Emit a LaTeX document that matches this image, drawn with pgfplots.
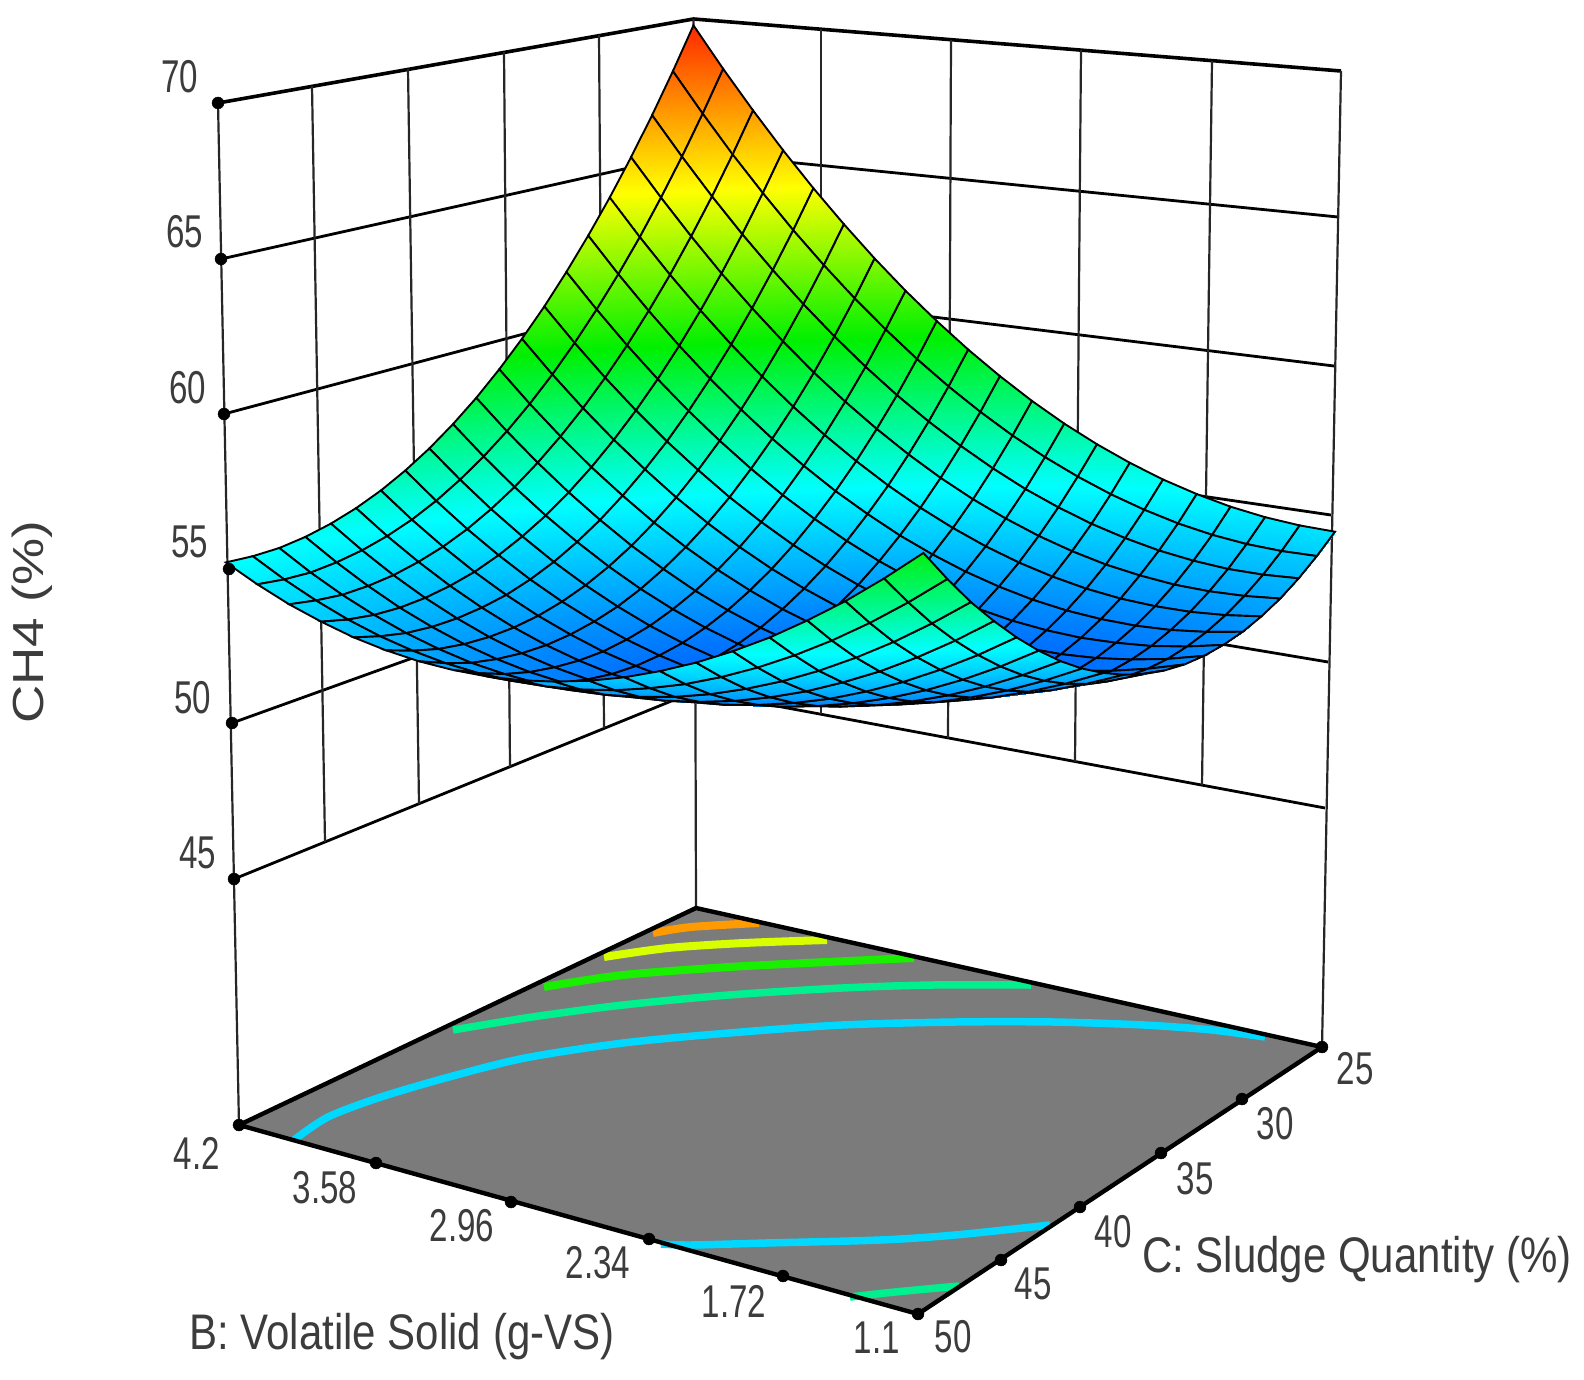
\documentclass[border=0pt]{standalone}
\usepackage{graphicx}
\usepackage{fontspec}
\setmainfont{Liberation Sans}
\usepackage{pgfplots}
\usepackage{pgfplotstable}
\pgfplotsset{compat=1.18}
\definecolor{txt}{HTML}{3C3C3C}
\definecolor{floorgray}{HTML}{7B7B7B}
\newcommand\uu{((4.2-\thisrow{B})/3.1)}
\newcommand\vt{((\thisrow{C}-25)/25)}
\newcommand\ww{((\thisrow{z}-36.49)*0.02985)}
\newcommand\den{(1-0.0929*\uu-0.1333*\vt-0.038*\ww)}
\newcommand\tl[1]{\fontsize{46}{50}\selectfont\color{txt}\scalebox{.72}[1]{#1}}
\newcommand\ttl[1]{\fontsize{50}{54}\selectfont\color{txt}\scalebox{.84}[1]{#1}}
\pgfplotstableread{
B C z
4.200 25 69.76
4.045 25 68.27
3.890 25 66.86
3.735 25 65.52
3.580 25 64.26
3.425 25 63.08
3.270 25 61.97
3.115 25 60.94
2.960 25 59.99
2.805 25 59.11
2.650 25 58.31
2.495 25 57.58
2.340 25 56.93
2.185 25 56.36
2.030 25 55.87
1.875 25 55.45
1.720 25 55.11
1.565 25 54.84
1.410 25 54.65
1.255 25 54.54
1.100 25 54.50
4.200 26.25 68.24
4.045 26.25 66.80
3.890 26.25 65.43
3.735 26.25 64.15
3.580 26.25 62.93
3.425 26.25 61.80
3.270 26.25 60.74
3.115 26.25 59.76
2.960 26.25 58.85
2.805 26.25 58.02
2.650 26.25 57.27
2.495 26.25 56.59
2.340 26.25 55.99
2.185 26.25 55.47
2.030 26.25 55.02
1.875 26.25 54.65
1.720 26.25 54.35
1.565 26.25 54.13
1.410 26.25 53.99
1.255 26.25 53.93
1.100 26.25 53.94
4.200 27.5 66.80
4.045 27.5 65.41
3.890 27.5 64.09
3.735 27.5 62.85
3.580 27.5 61.69
3.425 27.5 60.60
3.270 27.5 59.59
3.115 27.5 58.65
2.960 27.5 57.79
2.805 27.5 57.01
2.650 27.5 56.31
2.495 27.5 55.68
2.340 27.5 55.12
2.185 27.5 54.65
2.030 27.5 54.25
1.875 27.5 53.93
1.720 27.5 53.68
1.565 27.5 53.51
1.410 27.5 53.41
1.255 27.5 53.40
1.100 27.5 53.46
4.200 28.75 65.45
4.045 28.75 64.11
3.890 28.75 62.84
3.735 28.75 61.64
3.580 28.75 60.53
3.425 28.75 59.49
3.270 28.75 58.52
3.115 28.75 57.64
2.960 28.75 56.83
2.805 28.75 56.09
2.650 28.75 55.43
2.495 28.75 54.85
2.340 28.75 54.35
2.185 28.75 53.92
2.030 28.75 53.57
1.875 28.75 53.29
1.720 28.75 53.10
1.565 28.75 52.97
1.410 28.75 52.93
1.255 28.75 52.96
1.100 28.75 53.06
4.200 30 64.18
4.045 30 62.88
3.890 30 61.66
3.735 30 60.52
3.580 30 59.45
3.425 30 58.46
3.270 30 57.54
3.115 30 56.70
2.960 30 55.94
2.805 30 55.25
2.650 30 54.64
2.495 30 54.11
2.340 30 53.65
2.185 30 53.27
2.030 30 52.97
1.875 30 52.74
1.720 30 52.59
1.565 30 52.52
1.410 30 52.52
1.255 30 52.60
1.100 30 52.75
4.200 31.25 63.00
4.045 31.25 61.75
3.890 31.25 60.58
3.735 31.25 59.48
3.580 31.25 58.46
3.425 31.25 57.52
3.270 31.25 56.65
3.115 31.25 55.86
2.960 31.25 55.14
2.805 31.25 54.51
2.650 31.25 53.94
2.495 31.25 53.46
2.340 31.25 53.05
2.185 31.25 52.72
2.030 31.25 52.46
1.875 31.25 52.28
1.720 31.25 52.18
1.565 31.25 52.15
1.410 31.25 52.20
1.255 31.25 52.33
1.100 31.25 52.53
4.200 32.5 61.90
4.045 32.5 60.70
3.890 32.5 59.57
3.735 32.5 58.52
3.580 32.5 57.55
3.425 32.5 56.66
3.270 32.5 55.84
3.115 32.5 55.09
2.960 32.5 54.43
2.805 32.5 53.84
2.650 32.5 53.32
2.495 32.5 52.88
2.340 32.5 52.52
2.185 32.5 52.24
2.030 32.5 52.03
1.875 32.5 51.90
1.720 32.5 51.84
1.565 32.5 51.87
1.410 32.5 51.96
1.255 32.5 52.14
1.100 32.5 52.39
4.200 33.75 60.88
4.045 33.75 59.73
3.890 33.75 58.65
3.735 33.75 57.65
3.580 33.75 56.72
3.425 33.75 55.88
3.270 33.75 55.10
3.115 33.75 54.41
2.960 33.75 53.79
2.805 33.75 53.25
2.650 33.75 52.78
2.495 33.75 52.39
2.340 33.75 52.08
2.185 33.75 51.84
2.030 33.75 51.68
1.875 33.75 51.60
1.720 33.75 51.59
1.565 33.75 51.66
1.410 33.75 51.81
1.255 33.75 52.03
1.100 33.75 52.33
4.200 35 59.95
4.045 35 58.84
3.890 35 57.81
3.735 35 56.86
3.580 35 55.99
3.425 35 55.18
3.270 35 54.46
3.115 35 53.81
2.960 35 53.24
2.805 35 52.75
2.650 35 52.33
2.495 35 51.99
2.340 35 51.72
2.185 35 51.53
2.030 35 51.42
1.875 35 51.39
1.720 35 51.43
1.565 35 51.54
1.410 35 51.74
1.255 35 52.01
1.100 35 52.35
4.200 36.25 59.10
4.045 36.25 58.04
3.890 36.25 57.06
3.735 36.25 56.15
3.580 36.25 55.33
3.425 36.25 54.57
3.270 36.25 53.90
3.115 36.25 53.30
2.960 36.25 52.78
2.805 36.25 52.33
2.650 36.25 51.96
2.495 36.25 51.67
2.340 36.25 51.45
2.185 36.25 51.31
2.030 36.25 51.24
1.875 36.25 51.26
1.720 36.25 51.34
1.565 36.25 51.51
1.410 36.25 51.75
1.255 36.25 52.07
1.100 36.25 52.46
4.200 37.5 58.33
4.045 37.5 57.32
3.890 37.5 56.39
3.735 37.5 55.53
3.580 37.5 54.75
3.425 37.5 54.04
3.270 37.5 53.42
3.115 37.5 52.86
2.960 37.5 52.39
2.805 37.5 51.99
2.650 37.5 51.67
2.495 37.5 51.42
2.340 37.5 51.25
2.185 37.5 51.16
2.030 37.5 51.14
1.875 37.5 51.20
1.720 37.5 51.34
1.565 37.5 51.55
1.410 37.5 51.84
1.255 37.5 52.21
1.100 37.5 52.65
4.200 38.75 57.65
4.045 38.75 56.69
3.890 38.75 55.80
3.735 38.75 54.99
3.580 38.75 54.26
3.425 38.75 53.60
3.270 38.75 53.02
3.115 38.75 52.52
2.960 38.75 52.09
2.805 38.75 51.74
2.650 38.75 51.47
2.495 38.75 51.27
2.340 38.75 51.15
2.185 38.75 51.10
2.030 38.75 51.13
1.875 38.75 51.24
1.720 38.75 51.43
1.565 38.75 51.69
1.410 38.75 52.02
1.255 38.75 52.44
1.100 38.75 52.93
4.200 40 57.05
4.045 40 56.14
3.890 40 55.30
3.735 40 54.54
3.580 40 53.85
3.425 40 53.24
3.270 40 52.71
3.115 40 52.25
2.960 40 51.87
2.805 40 51.57
2.650 40 51.35
2.495 40 51.20
2.340 40 51.12
2.185 40 51.12
2.030 40 51.20
1.875 40 51.36
1.720 40 51.59
1.565 40 51.90
1.410 40 52.29
1.255 40 52.75
1.100 40 53.29
4.200 41.25 56.54
4.045 41.25 55.67
3.890 41.25 54.88
3.735 41.25 54.17
3.580 41.25 53.53
3.425 41.25 52.97
3.270 41.25 52.49
3.115 41.25 52.08
2.960 41.25 51.75
2.805 41.25 51.49
2.650 41.25 51.31
2.495 41.25 51.21
2.340 41.25 51.19
2.185 41.25 51.24
2.030 41.25 51.37
1.875 41.25 51.57
1.720 41.25 51.85
1.565 41.25 52.21
1.410 41.25 52.64
1.255 41.25 53.15
1.100 41.25 53.73
4.200 42.5 56.11
4.045 42.5 55.29
3.890 42.5 54.55
3.735 42.5 53.88
3.580 42.5 53.29
3.425 42.5 52.78
3.270 42.5 52.35
3.115 42.5 51.98
2.960 42.5 51.70
2.805 42.5 51.49
2.650 42.5 51.36
2.495 42.5 51.31
2.340 42.5 51.33
2.185 42.5 51.43
2.030 42.5 51.61
1.875 42.5 51.86
1.720 42.5 52.19
1.565 42.5 52.59
1.410 42.5 53.07
1.255 42.5 53.63
1.100 42.5 54.26
4.200 43.75 55.77
4.045 43.75 55.00
3.890 43.75 54.31
3.735 43.75 53.69
3.580 43.75 53.15
3.425 43.75 52.68
3.270 43.75 52.29
3.115 43.75 51.98
2.960 43.75 51.74
2.805 43.75 51.59
2.650 43.75 51.50
2.495 43.75 51.50
2.340 43.75 51.57
2.185 43.75 51.71
2.030 43.75 51.94
1.875 43.75 52.24
1.720 43.75 52.61
1.565 43.75 53.06
1.410 43.75 53.59
1.255 43.75 54.20
1.100 43.75 54.88
4.200 45 55.51
4.045 45 54.79
3.890 45 54.14
3.735 45 53.57
3.580 45 53.08
3.425 45 52.66
3.270 45 52.32
3.115 45 52.06
2.960 45 51.87
2.805 45 51.76
2.650 45 51.72
2.495 45 51.76
2.340 45 51.88
2.185 45 52.08
2.030 45 52.35
1.875 45 52.69
1.720 45 53.12
1.565 45 53.62
1.410 45 54.20
1.255 45 54.85
1.100 45 55.58
4.200 46.25 55.33
4.045 46.25 54.66
3.890 46.25 54.06
3.735 46.25 53.53
3.580 46.25 53.09
3.425 46.25 52.72
3.270 46.25 52.43
3.115 46.25 52.21
2.960 46.25 52.07
2.805 46.25 52.01
2.650 46.25 52.02
2.495 46.25 52.11
2.340 46.25 52.28
2.185 46.25 52.52
2.030 46.25 52.84
1.875 46.25 53.23
1.720 46.25 53.71
1.565 46.25 54.25
1.410 46.25 54.88
1.255 46.25 55.58
1.100 46.25 56.36
4.200 47.5 55.23
4.045 47.5 54.60
3.890 47.5 54.05
3.735 47.5 53.58
3.580 47.5 53.18
3.425 47.5 52.86
3.270 47.5 52.61
3.115 47.5 52.45
2.960 47.5 52.35
2.805 47.5 52.34
2.650 47.5 52.40
2.495 47.5 52.54
2.340 47.5 52.75
2.185 47.5 53.04
2.030 47.5 53.41
1.875 47.5 53.85
1.720 47.5 54.37
1.565 47.5 54.97
1.410 47.5 55.64
1.255 47.5 56.39
1.100 47.5 57.21
4.200 48.75 55.23
4.045 48.75 54.65
3.890 48.75 54.15
3.735 48.75 53.72
3.580 48.75 53.37
3.425 48.75 53.10
3.270 48.75 52.90
3.115 48.75 52.78
2.960 48.75 52.74
2.805 48.75 52.77
2.650 48.75 52.88
2.495 48.75 53.06
2.340 48.75 53.33
2.185 48.75 53.66
2.030 48.75 54.08
1.875 48.75 54.57
1.720 48.75 55.14
1.565 48.75 55.78
1.410 48.75 56.50
1.255 48.75 57.30
1.100 48.75 58.17
4.200 50 55.30
4.045 50 54.77
3.890 50 54.31
3.735 50 53.94
3.580 50 53.63
3.425 50 53.41
3.270 50 53.26
3.115 50 53.19
2.960 50 53.19
2.805 50 53.27
2.650 50 53.43
2.495 50 53.66
2.340 50 53.97
2.185 50 54.36
2.030 50 54.82
1.875 50 55.36
1.720 50 55.97
1.565 50 56.67
1.410 50 57.43
1.255 50 58.28
1.100 50 59.20
}\surfdata
\begin{document}
\begin{tikzpicture}
\begin{axis}[
  scale only axis, width=1584pt, height=1380pt,
  xmin=0, xmax=1584, ymin=0, ymax=1380, y dir=reverse,
  axis lines=none, clip=false,
  colormap={rsm}{rgb255(0pt)=(0,90,255) rgb255(41pt)=(0,255,255) rgb255(84pt)=(0,240,0) rgb255(132pt)=(255,255,0) rgb255(189pt)=(255,30,0)},
  point meta min=51.1, point meta max=70,
]
\path (axis cs:0,0) rectangle (axis cs:1584,1380);
% walls: z lines, left
\addplot[black, line width=3.6pt, forget plot] coordinates {(218,103)(693.5,19)(1341,71)};
\addplot[black, line width=2.8pt] coordinates {(221,259)(696,153)};
\addplot[black, line width=2.8pt] coordinates {(224,414)(696,288)};
\addplot[black, line width=2.8pt] coordinates {(229,569)(696,422)};
\addplot[black, line width=2.8pt] coordinates {(232,723)(696,556)};
\addplot[black, line width=2.8pt] coordinates {(234,879)(696,691)};
% walls: z lines, right
\addplot[black, line width=2.8pt] coordinates {(696,153)(1338,217)};
\addplot[black, line width=2.8pt] coordinates {(696,288)(1334,366)};
\addplot[black, line width=2.8pt] coordinates {(696,422)(1331,515)};
\addplot[black, line width=2.8pt] coordinates {(696,556)(1328,662)};
\addplot[black, line width=2.8pt] coordinates {(696,691)(1325,808)};
% walls: verticals, left
\addplot[black!85, line width=2.2pt] coordinates {(312,86)(325,842)};
\addplot[black!85, line width=2.2pt] coordinates {(408,69)(419,804)};
\addplot[black!85, line width=2.2pt] coordinates {(504,52)(510,767)};
\addplot[black!85, line width=2.2pt] coordinates {(599,35)(604,728)};
% walls: verticals, right
\addplot[black!85, line width=2.2pt] coordinates {(821,29)(821,714)};
\addplot[black!85, line width=2.2pt] coordinates {(951,40)(948,738)};
\addplot[black!85, line width=2.2pt] coordinates {(1081,50)(1075,762)};
\addplot[black!85, line width=2.2pt] coordinates {(1212,61)(1202,785)};
% frame verticals
\addplot[black!85, line width=2.2pt] coordinates {(218,103)(239,1125)};
\addplot[black!85, line width=2.2pt] coordinates {(693.5,19)(696,908)};
\addplot[black!85, line width=2.2pt] coordinates {(1341,71)(1322,1047)};
% floor
\addplot[fill=floorgray, draw=none] coordinates {(696,908)(1322,1047)(918,1314)(239,1125)} -- cycle;
% contours
\addplot[color={rgb,255:red,0;green,216;blue,255}, line width=7.5pt, smooth] coordinates {(294,1140)(328,1117)(381,1097)(449,1077)(525,1058)(623,1043)(729,1033)(842,1025)(955,1022)(1053,1022)(1144,1025)(1212,1030)(1265,1037)};
\addplot[color={rgb,255:red,0;green,216;blue,255}, line width=7.5pt, smooth] coordinates {(661,1244)(691,1245)(766,1243)(880,1240)(955,1235)(1050,1225)};
\addplot[color={rgb,255:red,0;green,240;blue,144}, line width=7.5pt, smooth] coordinates {(453,1030)(532,1017)(623,1005)(729,995)(842,988)(933,985)(1031,985)};
\addplot[color={rgb,255:red,0;green,240;blue,144}, line width=7.5pt, smooth] coordinates {(850,1297)(895,1292)(959,1286)};
\addplot[color={rgb,255:red,24;green,240;blue,0}, line width=8pt, smooth] coordinates {(544,987)(623,975)(729,967)(827,962)(914,958)};
\addplot[color={rgb,255:red,216;green,255;blue,0}, line width=8pt, smooth] coordinates {(604,957)(668,948)(744,943)(827,940)};
\addplot[color={rgb,255:red,255;green,154;blue,0}, line width=8pt, smooth] coordinates {(653,933)(691,927)(759,923)};
% floor border
\addplot[draw=black, line width=4.4pt] coordinates {(696,908)(1322,1047)(918,1314)(239,1125)} -- cycle;
% surface
\addplot[surf, shader=faceted interp, faceted color=black, line width=1.9pt,
  mesh/rows=21, mesh/cols=21, mesh/check=false, point meta=explicit]
  table[
    x expr={(696+503.2*\uu-488.87*\vt-28.9*\ww)/\den},
    y expr={(908+41.75*\uu+67*\vt-889.7*\ww)/\den},
    meta=z] {\surfdata};
% tick dots
\addplot[only marks, mark=*, mark size=6pt, black] coordinates {(218,103)(221,259)(224,414)(229,569)(232,723)(234,879)};
\addplot[only marks, mark=*, mark size=6pt, black] coordinates {(239,1125)(376,1163)(511,1202)(649,1239)(783,1276)(918,1314)(1001,1260)(1080,1207)(1161,1153)(1242,1099)(1322,1047)};
% text
\node at (axis cs:180,77) {\tl{70}};
\node at (axis cs:185,232) {\tl{65}};
\node at (axis cs:188,388) {\tl{60}};
\node at (axis cs:190,542) {\tl{55}};
\node at (axis cs:193,698) {\tl{50}};
\node at (axis cs:198,853) {\tl{45}};
\node at (axis cs:197,1153) {\tl{4.2}};
\node at (axis cs:325,1188) {\tl{3.58}};
\node at (axis cs:462,1226) {\tl{2.96}};
\node at (axis cs:598,1263) {\tl{2.34}};
\node at (axis cs:734,1301) {\tl{1.72}};
\node at (axis cs:877,1338) {\tl{1.1}};
\node at (axis cs:1355,1069) {\tl{25}};
\node at (axis cs:1275,1124) {\tl{30}};
\node at (axis cs:1195,1179) {\tl{35}};
\node at (axis cs:1113,1232) {\tl{40}};
\node at (axis cs:1033,1284) {\tl{45}};
\node at (axis cs:953,1337) {\tl{50}};
\node at (axis cs:402,1337) {\ttl{B: Volatile Solid (g-VS)}};
\node at (axis cs:1357,1260) {\ttl{C: Sludge Quantity (\%)}};
\node at (axis cs:32,622) {\rotatebox{90}{\fontsize{53}{56}\selectfont\color{txt}\scalebox{1}[.82]{CH4 (\%)}}};
\end{axis}
\end{tikzpicture}
\end{document}
